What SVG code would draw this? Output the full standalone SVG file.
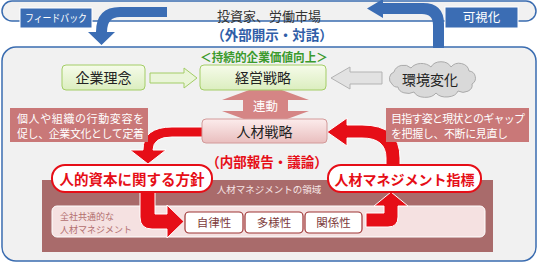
<svg xmlns="http://www.w3.org/2000/svg" width="538" height="264" viewBox="0 0 538 264">
<defs>
<style>
text{font-family:"Noto Sans CJK JP","Noto Sans CJK SC",sans-serif;}
.mid{text-anchor:middle;}
.blue{fill:#3b6db4;}
.lbl{fill:#3b6db4;stroke:#ffffff;stroke-width:1;}
.wt{fill:#ffffff;}
.green{fill:url(#gGreen);stroke:#a3cd66;stroke-width:1;}
.pinkbox{fill:url(#gPink);stroke:#d39a9a;stroke-width:1;}
.note{fill:#c97878;}
.red{fill:#e60e17;stroke:#ffffff;stroke-width:1;}
.pill{fill:#ffffff;stroke:#e60e17;stroke-width:2;}
.pilltxt{fill:#e60e17;font-weight:bold;}
.small{fill:#ffffff;stroke:#9e3434;stroke-width:1.2;}
.smalltxt{fill:#7d3b3b;font-size:11.5px;}
.dark{fill:#222222;font-size:14px;}
.hr{fill:#b36f6f;font-size:9px;}
</style>
<linearGradient id="gGreen" x1="0" y1="0" x2="0" y2="1">
<stop offset="0" stop-color="#f6fbea"/>
<stop offset="1" stop-color="#dbeebf"/>
</linearGradient>
<linearGradient id="gPink" x1="0" y1="0" x2="0" y2="1">
<stop offset="0" stop-color="#fcecec"/>
<stop offset="1" stop-color="#e9bebe"/>
</linearGradient>
</defs>

<!-- backgrounds -->
<rect x="2" y="47" width="534" height="214" rx="14" fill="#f1f1f1" stroke="#3a6cb0" stroke-width="1.5"/>
<rect x="2" y="1" width="534" height="20" rx="10" fill="#f1f1f1" stroke="#3a6cb0" stroke-width="1.5"/>

<g id="connectors">
<!-- blue feedback arrow -->
<path class="blue" d="M167,7 L120,7 Q96,7 96,32 L88,32 L101.5,45 L115,32 L107,32 Q107,17 120,17 L167,17 Z"/>
<!-- blue visualisation arrow -->
<path class="blue" d="M444,48 L444,24 Q444,3 423,3 L383,3 L383,-1 L367,8.5 L383,18 L383,14 L422,14 Q433,14 433,25 L433,48 Z"/>
<!-- green arrow -->
<path d="M150,73 L184,73 L184,68 L197,78 L184,88 L184,83 L150,83 Z" fill="#eaf5d9" stroke="#a3cd66" stroke-width="1"/>
<!-- gray arrow -->
<path d="M382,72 L350,72 L350,67 L331,78 L350,89 L350,84 L382,84 Z" fill="#e2e2e2" stroke="#b3b3b3" stroke-width="1"/>
<!-- renkei double arrow -->
<path d="M265.5,84 L309,100 L288,100 L288,111 L309,111 L265.5,127 L222,111 L243,111 L243,100 L222,100 Z" fill="#d58585"/>
<!-- red arrows -->
<path class="red" d="M205,127 L172,127 Q143,127 143,150 L130,150 L148,164 L166,150 L153,150 Q153,137 172,137 L205,137 Z"/>
<path class="red" d="M400,166 L400,158 Q400,125 362,125 L347,125 L347,118 L327,132 L347,146 L347,138 L362,138 Q386,138 386,158 L386,166 Z"/>
</g>

<g id="labels-top">
<rect class="lbl" x="20" y="8" width="72" height="20"/>
<text class="wt mid" x="56" y="22" font-size="10.5" textLength="62" lengthAdjust="spacingAndGlyphs">フィードバック</text>
<rect class="lbl" x="445" y="7" width="73" height="21"/>
<text class="wt mid" x="481.5" y="22" font-size="12.5">可視化</text>
<text class="mid" x="269" y="20.5" font-size="13" fill="#333333">投資家、労働市場</text>
<text class="mid" x="272" y="40" font-size="13.5" font-weight="bold" fill="#2f5ea8">（外部開示・対話）</text>
<text class="mid" x="264" y="61.5" font-size="12" font-weight="bold" fill="#3a9a2c" textLength="128" lengthAdjust="spacingAndGlyphs">＜持続的企業価値向上＞</text>
</g>

<g id="node-rinen">
<rect class="green" x="62" y="65" width="83" height="25" rx="4"/>
<text class="dark mid" x="103.5" y="82.5">企業理念</text>
</g>
<g id="node-keiei">
<rect class="green" x="200" y="65" width="126" height="25" rx="4"/>
<text class="dark mid" x="263" y="82.5">経営戦略</text>
</g>
<g id="node-kankyo">
<path d="M392,84 a7,7 0 0,1 2,-12 a10,9 0 0,1 17,-4 a12,9 0 0,1 20,-1 a11,9 0 0,1 20,0 a10,9 0 0,1 18,4 a7,7 0 0,1 3,13 a9,7 0 0,1 -14,7 a12,8 0 0,1 -22,2 a12,8 0 0,1 -22,-1 a10,7 0 0,1 -16,-5 a6,6 0 0,1 -6,-3 z" fill="#d9d9d9" stroke="#ababab" stroke-width="1"/>
<text class="dark mid" x="430" y="85">環境変化</text>
</g>
<g id="node-renkei">
<text class="wt mid" x="265.5" y="110.5" font-size="12.5">連動</text>
</g>
<g id="node-jinzai">
<rect class="pinkbox" x="202" y="119" width="125" height="24" rx="4"/>
<text class="dark mid" x="264.5" y="136.5">人材戦略</text>
</g>
<g id="note-left">
<rect class="note" x="10" y="108" width="138" height="34"/>
<text class="wt" x="17" y="123" font-size="11" textLength="127" lengthAdjust="spacing">個人や組織の行動変容を</text>
<text class="wt" x="17" y="137.5" font-size="11" textLength="127" lengthAdjust="spacing">促し、企業文化として定着</text>
</g>
<g id="note-right">
<rect class="note" x="386" y="108" width="143" height="34"/>
<text class="wt" x="391" y="123" font-size="11" textLength="134" lengthAdjust="spacing">目指す姿と現状とのギャップ</text>
<text class="wt" x="391" y="137.5" font-size="11" textLength="117" lengthAdjust="spacing">を把握し、不断に見直し</text>
</g>
<g id="label-naibu">
<text class="mid" x="267" y="167" font-size="13.5" font-weight="bold" fill="#e60e17">（内部報告・議論）</text>
</g>

<g id="area-hr">
<rect x="42" y="180" width="451" height="72" fill="#a96b6b"/>
<text class="mid" x="269" y="193" font-size="9.5" fill="#f6e6e6">人材マネジメントの領域</text>
<rect x="52" y="206" width="433" height="31" rx="5" fill="#f5e1e1" stroke="#ffffff" stroke-width="1"/>
<text class="hr" x="60" y="219.5">全社共通的な</text>
<text class="hr" x="60" y="232.5">人材マネジメント</text>
</g>

<g id="connectors-lower">
<path class="red" d="M140,191 L140,217 Q140,229 152,229 L167,229 L167,238 L184,221.5 L167,205 L167,214 L155,214 L155,191 Z"/>
<path class="red" d="M366,213 L384,213 L384,206 L374,206 L391,192 L408,206 L398,206 L398,217 Q398,227 388,227 L366,227 Z"/>
</g>

<g id="node-policy">
<rect class="pill" x="52" y="165" width="160" height="27" rx="13"/>
<text class="pilltxt mid" x="132" y="184.5" font-size="14.5">人的資本に関する方針</text>
</g>
<g id="node-index">
<rect class="pill" x="328" y="165" width="153" height="27" rx="13"/>
<text class="pilltxt mid" x="404.5" y="184.5" font-size="14">人材マネジメント指標</text>
</g>
<g id="node-jiritsu">
<rect class="small" x="185" y="212" width="58" height="21" rx="4"/>
<text class="smalltxt mid" x="214" y="227">自律性</text>
</g>
<g id="node-tayou">
<rect class="small" x="245" y="212" width="58" height="21" rx="4"/>
<text class="smalltxt mid" x="274" y="227">多様性</text>
</g>
<g id="node-kankei">
<rect class="small" x="305" y="212" width="57" height="21" rx="4"/>
<text class="smalltxt mid" x="333.5" y="227">関係性</text>
</g>
</svg>
